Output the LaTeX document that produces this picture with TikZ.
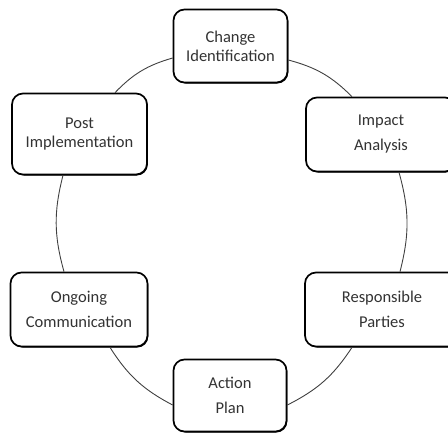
\documentclass[tikz,border=0pt]{standalone}
\usepackage{fontspec}
\setmainfont{Carlito}
\usetikzlibrary{shadows}
\begin{document}
\begin{tikzpicture}[x=1pt,y=-1pt,
  stage/.style={draw=black, line width=1.7pt, rounded corners=11pt, fill=white,
    align=center, text=black!80, inner sep=0pt,
    drop shadow={shadow xshift=0.8pt, shadow yshift=-1pt, fill=black, opacity=1}},
  tight/.style={font=\fontsize{16.5}{19}\selectfont},
  loose/.style={font=\fontsize{16.5}{25}\selectfont},
  link/.style={draw=black!75, line width=0.9pt, bend left=15}]
\useasboundingbox (0,0) rectangle (448,434);
\node[stage,tight, minimum width=114pt, minimum height=73pt] (chg) at (230.5,46) {Change\\Identification};
\node[stage,tight, minimum width=135pt, minimum height=81pt] (post) at (79.5,134) {Post\\Implementation};
\node[stage,loose, minimum width=150pt, minimum height=74pt] (imp) at (381,134.5) {Impact\\Analysis};
\node[stage,loose, minimum width=137pt, minimum height=74pt] (ong) at (79,309.5) {Ongoing\\Communication};
\node[stage,loose, minimum width=154pt, minimum height=74pt] (resp) at (382,309.5) {Responsible\\Parties};
\node[stage,loose, minimum width=113pt, minimum height=72pt] (act) at (230,395.5) {Action\\Plan};
\draw[link] ([xshift=35.5pt]post.north) to ([yshift=-12pt]chg.west);
\draw[link] ([yshift=-14pt]chg.east) to ([xshift=-29pt]imp.north);
\draw[link] ([xshift=18pt]imp.south) to ([xshift=18pt]resp.north);
\draw[link] ([xshift=-30pt]resp.south) to ([yshift=-9.5pt]act.east);
\draw[link] ([yshift=-9.5pt]act.west) to ([xshift=31pt]ong.south);
\draw[link] ([xshift=-15pt]ong.north) to ([xshift=-16.5pt]post.south);
\end{tikzpicture}
\end{document}
